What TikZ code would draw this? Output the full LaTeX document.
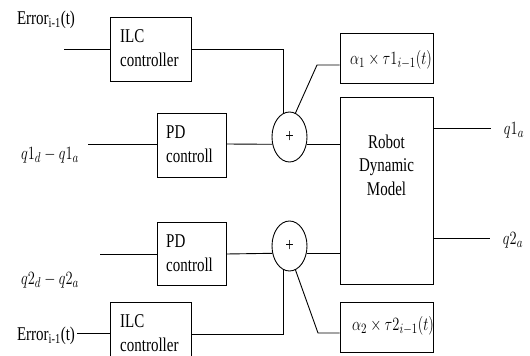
\documentclass[tikz,border=0pt]{standalone}
\usepackage{fontspec}
\setmainfont{Liberation Serif}
\usetikzlibrary{shapes.geometric,calc}
\newcommand\vs[1]{\scalebox{1}[1.3]{#1}}
\begin{document}
\begin{tikzpicture}[x=1pt,y=-1pt,
  every node/.style={font=\fontsize{15}{18}\selectfont},
  blk/.style={draw,line width=0.9pt,inner sep=0pt},
  sum/.style={draw,ellipse,line width=0.9pt,minimum width=35pt,minimum height=50pt,inner sep=0pt},
  wire/.style={line width=0.9pt},
  lbl/.style={inner sep=0pt}]
\clip (0,0) rectangle (530,356);
% boxes
\node[blk,minimum width=81pt,minimum height=64pt] (ilc1) at (150.5,49) {};
\node[blk,minimum width=81pt,minimum height=64pt] (ilc2) at (150.5,334) {};
\node[blk,minimum width=69pt,minimum height=64pt] (pd1) at (191.5,145) {};
\node[blk,minimum width=69pt,minimum height=63pt] (pd2) at (191.5,253.5) {};
\node[blk,minimum width=93pt,minimum height=50pt] (a1) at (386.5,58) {};
\node[blk,minimum width=93pt,minimum height=50pt] (a2) at (386.5,327) {};
\node[blk,minimum width=93pt,minimum height=187pt] (robot) at (386.5,190.5) {};
\node[sum] (c1) at (289.5,137) {};
\node[sum] (c2) at (289.5,246) {};
% box texts
\node[lbl,anchor=west] (ilc1t) at (120,50) {\vs{\begin{tabular}{@{}l@{}}ILC\\controller\end{tabular}}};
\node[lbl,anchor=west] (ilc2t) at (120,335) {\vs{\begin{tabular}{@{}l@{}}ILC\\controller\end{tabular}}};
\node[lbl,anchor=west] (pd1t) at (166,146) {\vs{\begin{tabular}{@{}l@{}}PD\\controll\end{tabular}}};
\node[lbl,anchor=west] (pd2t) at (166,255) {\vs{\begin{tabular}{@{}l@{}}PD\\controll\end{tabular}}};
\node[lbl] (robott) at (386.5,167) {\vs{\begin{tabular}{@{}c@{}}Robot\\Dynamic\\Model\end{tabular}}};
\node[lbl] (a1t) at (391,60) {\vs{$\alpha_1\times\tau1_{i-1}(t)$}};
\node[lbl] (a2t) at (393,326) {\vs{$\alpha_2\times\tau2_{i-1}(t)$}};
\node[lbl] (p1) at (289.5,137) {\vs{+}};
\node[lbl] (p2) at (289.5,246) {\vs{+}};
% outer labels
\node[lbl] (e1) at (46,20) {\vs{Error\textsubscript{i-1}(t)}};
\node[lbl] (e2) at (46,336) {\vs{Error\textsubscript{i-1}(t)}};
\node[lbl] (q1) at (50,155) {\vs{$q1_d-q1_a$}};
\node[lbl] (q2) at (50,280) {\vs{$q2_d-q2_a$}};
\node[lbl] (o1t) at (514,130) {\vs{$q1_a$}};
\node[lbl] (o2t) at (513,240) {\vs{$q2_a$}};
% coordinates
\coordinate (i1) at (64,49);
\coordinate (i2) at (88,144);
\coordinate (i3) at (100,254);
\coordinate (i4) at (77,333);
\coordinate (k1) at (317,65);
\coordinate (k2) at (318,333);
\coordinate (o1) at (491,128);
\coordinate (o2) at (490,238);
% wires
\draw[wire] (i1) -- (ilc1.west |- i1);
\draw[wire] (i2) -- (pd1.west |- i2);
\draw[wire] (i3) -- (pd2.west |- i3);
\draw[wire] (i4) -- (ilc2.west |- i4);
\draw[wire] (ilc1.east) -| (c1.104);
\draw[wire] (ilc2.east) -| (c2.256);
\draw[wire] (pd1.east |- i2) -- (c1.203);
\draw[wire] (pd2.east |- i3) -- (c2.203);
\draw[wire] (c1.337) -- (c1.337 -| robot.west);
\draw[wire] (c2.337) -- (c2.337 -| robot.west);
\draw[wire] (c1.76) -- (k1) -- (k1 -| a1.west);
\draw[wire] (c2.284) -- (k2) -- (k2 -| a2.west);
\draw[wire] (o1 -| robot.east) -- (o1);
\draw[wire] (o2 -| robot.east) -- (o2);
\end{tikzpicture}
\end{document}
